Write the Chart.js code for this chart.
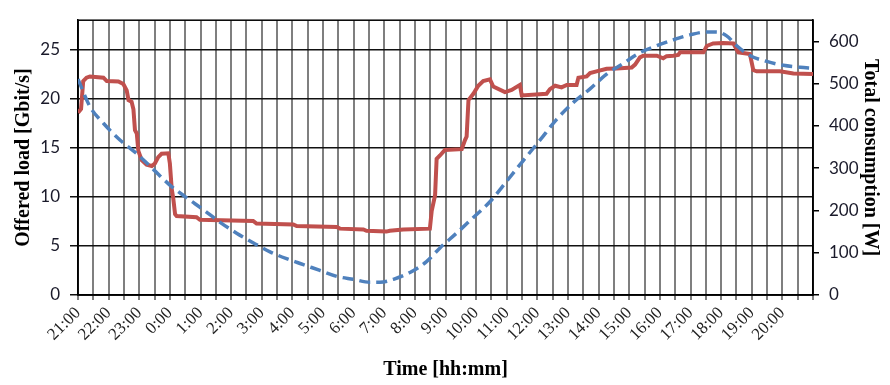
<!DOCTYPE html>
<html>
<head>
<meta charset="utf-8">
<script src="https://cdn.jsdelivr.net/npm/chart.js@4/dist/chart.umd.min.js"></script>
<style>
html,body{margin:0;padding:0;background:#fff;}
#wrap{width:890px;height:385px;}
</style>
</head>
<body>
<div id="wrap"><canvas id="c" width="890" height="385"></canvas></div>
<script>
// Time axis labels (hours since 21:00)
const timeLabels = ['21:00','22:00','23:00','0:00','1:00','2:00','3:00','4:00','5:00','6:00','7:00','8:00',
  '9:00','10:00','11:00','12:00','13:00','14:00','15:00','16:00','17:00','18:00','19:00','20:00'];

// Offered load [Gbit/s] (blue dashed, left axis)
const loadHours  = [0, 0.39, 0.83, 1.37, 1.92, 2.46, 3.0, 3.55, 4.09, 4.64, 5.18, 5.73, 6.27, 6.81, 7.36, 7.9, 8.45, 8.99, 9.53, 9.86, 10.3, 10.84, 11.38, 11.82, 12.36, 12.91, 13.45, 14.0, 14.54, 15.09, 15.63, 16.17, 16.72, 17.26, 17.81, 18.35, 18.9, 19.44, 19.98, 20.53, 20.85, 21.18, 21.51, 21.94, 22.49, 23.03, 23.58, 24.0];
const loadValues = [22.0, 19.2, 17.5, 15.8, 14.4, 12.8, 11.2, 9.9, 8.7, 7.4, 6.3, 5.3, 4.4, 3.7, 3.1, 2.5, 1.9, 1.6, 1.3, 1.3, 1.6, 2.3, 3.4, 4.8, 6.3, 7.9, 9.5, 11.6, 13.7, 15.8, 17.9, 19.6, 21.0, 22.5, 23.6, 24.7, 25.4, 26.0, 26.5, 26.8, 26.8, 26.4, 25.4, 24.4, 23.8, 23.4, 23.2, 23.1];

// Total consumption [W] (red, right axis)
const powerHours  = [0, 0.1, 0.17, 0.28, 0.39, 0.83, 0.94, 1.32, 1.48, 1.59, 1.65, 1.75, 1.81, 1.86, 1.92, 1.97, 2.08, 2.24, 2.41, 2.51, 2.62, 2.73, 2.95, 3.0, 3.06, 3.11, 3.17, 3.22, 3.87, 3.98, 5.72, 5.83, 7.03, 7.14, 8.45, 8.55, 9.32, 9.42, 10.07, 10.18, 10.62, 11.49, 11.55, 11.66, 11.71, 11.82, 11.98, 12.53, 12.64, 12.69, 12.75, 12.91, 13.07, 13.23, 13.45, 13.56, 13.94, 14.16, 14.43, 14.49, 15.3, 15.41, 15.58, 15.79, 15.96, 16.28, 16.34, 16.61, 16.72, 16.93, 17.26, 17.59, 18.08, 18.19, 18.35, 18.46, 18.9, 19.11, 19.22, 19.44, 19.6, 19.66, 20.42, 20.53, 20.74, 21.07, 21.4, 21.56, 21.94, 22.05, 22.16, 22.92, 23.36, 24.0];
const powerValues = [431, 440, 506, 514, 517, 514, 506, 505, 499, 484, 461, 457, 439, 390, 382, 341, 319, 308, 305, 311, 326, 334, 335, 311, 251, 229, 191, 187, 184, 178, 175, 169, 167, 163, 161, 157, 155, 152, 150, 152, 155, 157, 199, 236, 322, 330, 343, 345, 367, 375, 461, 476, 495, 506, 510, 493, 480, 485, 497, 472, 476, 487, 495, 491, 497, 497, 514, 517, 525, 529, 535, 536, 538, 545, 562, 566, 566, 560, 565, 566, 568, 574, 574, 589, 595, 596, 595, 574, 570, 532, 529, 529, 524, 523];

const loadPts = loadHours.map((h, i) => ({x: h, y: loadValues[i]}));
const powerPts = powerHours.map((h, i) => ({x: h, y: powerValues[i]}));

const frame = {
  id: 'frame',
  beforeDatasetsDraw(chart) {
    const {ctx, chartArea: a} = chart;
    ctx.save();
    ctx.strokeStyle = '#000';
    ctx.lineWidth = 1.5;
    ctx.strokeRect(a.left, a.top, a.right - a.left, a.bottom - a.top);
    ctx.restore();
  }
};

new Chart(document.getElementById('c'), {
  type: 'line',
  data: {
    datasets: [
      {
        label: 'Offered load',
        data: loadPts,
        yAxisID: 'y',
        borderColor: '#4F81BD',
        borderWidth: 3.5,
        borderDash: [11, 6],
        pointRadius: 0,
        cubicInterpolationMode: 'monotone',
        fill: false
      },
      {
        label: 'Total consumption',
        data: powerPts,
        yAxisID: 'y2',
        borderColor: '#C0504D',
        borderWidth: 4,
        pointRadius: 0,
        tension: 0,
        fill: false
      }
    ]
  },
  plugins: [frame],
  options: {
    responsive: false,
    animation: false,
    events: [],
    layout: {padding: {top: 7, left: 0, right: 0, bottom: 0}},
    plugins: {legend: {display: false}, tooltip: {enabled: false}},
    scales: {
      x: {
        type: 'linear',
        min: 0, max: 24,
        afterFit(s) { s.height = 90; },
        afterBuildTicks(s) {
          const t = [];
          for (let i = 0; i <= 48; i++) t.push({value: i / 2});
          s.ticks = t;
        },
        ticks: {
          autoSkip: false,
          minRotation: 45, maxRotation: 45,
          padding: 3,
          color: '#222',
          font: {family: '"Liberation Serif", serif', size: 17},
          callback: (v) => (Number.isInteger(v) && v < timeLabels.length) ? timeLabels[v] : ''
        },
        grid: {color: 'rgba(0,0,0,0.5)', lineWidth: 2, tickLength: 5},
        border: {color: '#000', width: 1.5},
        title: {display: true, text: 'Time [hh:mm]', color: '#000',
          font: {family: '"Liberation Serif", serif', size: 20, weight: 'bold'},
          padding: {top: 0, bottom: 3}}
      },
      y: {
        position: 'left',
        min: 0, max: 28,
        afterFit(s) { s.width = 78; },
        afterBuildTicks(s) { s.ticks = s.ticks.filter(t => t.value % 5 === 0); },
        ticks: {stepSize: 5, padding: 10, color: '#1a1a2a',
          font: {family: 'Lato, sans-serif', size: 17}},
        grid: {color: '#111', lineWidth: 1.5, tickLength: 8},
        border: {color: '#000', width: 1.5},
        title: {display: true, text: 'Offered load [Gbit/s]', color: '#000',
          font: {family: '"Liberation Serif", serif', size: 20, weight: 'bold'},
          padding: {top: 12, bottom: 0}}
      },
      y2: {
        position: 'right',
        min: 0, max: 650,
        afterFit(s) { s.width = 77; },
        afterBuildTicks(s) { s.ticks = s.ticks.filter(t => t.value % 100 === 0 && t.value <= 600); },
        ticks: {stepSize: 100, padding: 10, color: '#1a1a2a',
          font: {family: 'Lato, sans-serif', size: 17}},
        grid: {drawOnChartArea: false, color: '#000', lineWidth: 1.5, tickLength: 6},
        border: {color: '#000', width: 1.5},
        title: {display: true, text: 'Total consumption [W]', color: '#000',
          font: {family: '"Liberation Serif", serif', size: 20, weight: 'bold'},
          padding: {top: 8, bottom: 0}}
      }
    }
  }
});
</script>
</body>
</html>
